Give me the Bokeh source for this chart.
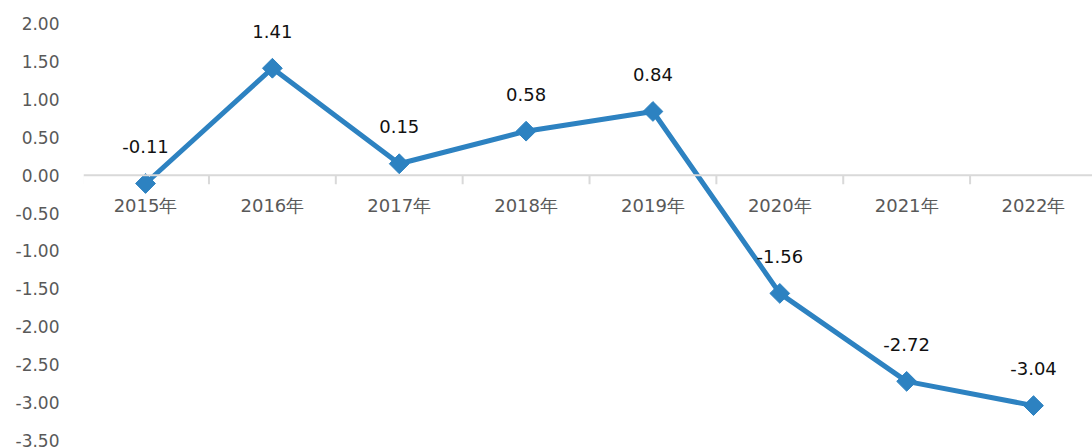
import math
from bokeh.plotting import figure
from bokeh.models import (ColumnDataSource, Range1d, FixedTicker, NumeralTickFormatter,
                          Span, Segment)
from bokeh.core.properties import value
from bokeh.embed import file_html
from bokeh.resources import INLINE

years = ["2015年", "2016年", "2017年", "2018年", "2019年", "2020年", "2021年", "2022年"]
values = [-0.11, 1.41, 0.15, 0.58, 0.84, -1.56, -2.72, -3.04]
labels = ["-0.11", "1.41", "0.15", "0.58", "0.84", "-1.56", "-2.72", "-3.04"]
y_ticks = [-3.5, -3.0, -2.5, -2.0, -1.5, -1.0, -0.5, 0.0, 0.5, 1.0, 1.5, 2.0]

BLUE = "#2D82C1"
GRAY = "#595959"

xs = list(range(len(years)))
src = ColumnDataSource(dict(x=xs, y=values, lab=labels, year=years,
                            zero=[0.0] * len(years)))

p = figure(width=1092, height=447, output_backend="svg", toolbar_location=None,
           x_range=Range1d(-0.489, 7.465), y_range=Range1d(-3.5, 2.0),
           min_border_left=83, min_border_right=0, min_border_top=23,
           min_border_bottom=7)
p.outline_line_color = None
p.grid.visible = False
p.xaxis.visible = False

ya = p.yaxis[0]
ya.ticker = FixedTicker(ticks=y_ticks)
ya.formatter = NumeralTickFormatter(format="0.00")
ya.axis_line_color = None
ya.major_tick_line_color = None
ya.minor_tick_line_color = None
ya.major_label_standoff = 18
ya.major_label_text_font = "DejaVu Sans"
ya.major_label_text_font_size = "17px"
ya.major_label_text_color = GRAY

# category axis drawn at y = 0
p.add_layout(Span(location=0, dimension="width", line_color="#D9D9D9", line_width=2))
bounds = [i - 0.5 for i in range(len(years) + 1)]
tsrc = ColumnDataSource(dict(x=bounds, y0=[0.0] * len(bounds), y1=[-0.12] * len(bounds)))
p.add_glyph(tsrc, Segment(x0="x", y0="y0", x1="x", y1="y1", line_color="#D9D9D9", line_width=2))

p.text(x="x", y="zero", text="year", source=src, text_align="center",
       text_baseline="middle", y_offset=30, text_color=GRAY,
       text_font=value("DejaVu Sans"), text_font_size="18px")

p.line(x="x", y="y", source=src, line_color=BLUE, line_width=5, line_join="round")
p.scatter(x="x", y="y", source=src, marker="square", angle=math.pi / 4, size=14,
          fill_color=BLUE, line_color=BLUE)

p.text(x="x", y="y", text="lab", source=src, text_align="center",
       text_baseline="middle", y_offset=-37, text_color="#111111",
       text_font=value("DejaVu Sans"), text_font_size="18px")

open("out.html", "w").write(file_html(p, INLINE))
